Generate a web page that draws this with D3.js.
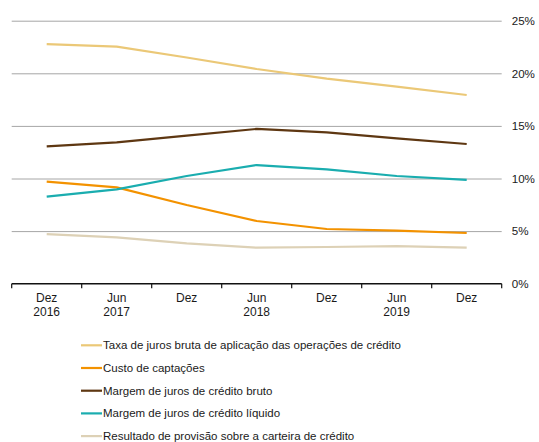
<!DOCTYPE html>
<html>
<head>
<meta charset="utf-8">
<script src="https://cdn.jsdelivr.net/npm/d3@7"></script>
<style>
  html, body { margin: 0; padding: 0; background: #fff; }
  svg { display: block; font-family: "Liberation Sans", Arial, sans-serif; }
</style>
</head>
<body>
<svg id="chart" width="539" height="442"></svg>
<script>
// Semester-end periods and their two-line axis labels
const periods = ["2016-12", "2017-06", "2017-12", "2018-06", "2018-12", "2019-06", "2019-12"];
const periodLabels = [["Dez", "2016"], ["Jun", "2017"], ["Dez"], ["Jun", "2018"], ["Dez"], ["Jun", "2019"], ["Dez"]];

// Rates in % per period
const taxaBruta   = [22.78, 22.53, 21.5, 20.41, 19.49, 18.73, 17.94];
const custoCapt   = [9.70, 9.16, 7.48, 5.96, 5.20, 5.04, 4.82];
const margemBruto = [13.06, 13.44, 14.07, 14.71, 14.39, 13.82, 13.28];
const margemLiq   = [8.27, 8.97, 10.24, 11.28, 10.87, 10.24, 9.86];
const provisao    = [4.72, 4.41, 3.84, 3.42, 3.49, 3.58, 3.42];

const yTicks = [0, 5, 10, 15, 20, 25];

const seriesNames = [
  "Taxa de juros bruta de aplicação das operações de crédito",
  "Custo de captações",
  "Margem de juros de crédito bruto",
  "Margem de juros de crédito líquido",
  "Resultado de provisão sobre a carteira de crédito"
];
const seriesValues = [taxaBruta, custoCapt, margemBruto, margemLiq, provisao];
const seriesColors = ["#EBC877", "#F39200", "#5E3712", "#1AADAF", "#DDD1B6"];

const svg = d3.select("#chart");
const plotLeft = 11.7, plotRight = 501.7, plotTop = 20.7, plotBottom = 283.7;

const x = d3.scaleBand().domain(periods).range([plotLeft, plotRight]).padding(0);
const y = d3.scaleLinear().domain([0, 25]).range([plotBottom, plotTop]);
const cx = p => x(p) + x.bandwidth() / 2;

// Gridlines and right-hand value labels
const yAxis = d3.axisRight(y)
  .tickValues(yTicks)
  .tickSize(-(plotRight - plotLeft))
  .tickPadding(10)
  .tickFormat(d => d + "%");
const gy = svg.append("g").attr("transform", `translate(${plotRight},0)`).call(yAxis);
gy.select(".domain").remove();
gy.selectAll(".tick line").attr("stroke", "#A6A6A6").attr("stroke-width", 1)
  .filter(d => d === 0).remove();
gy.selectAll(".tick text")
  .attr("fill", "#1a1a1a")
  .style("font-size", "11.6px")
  .style("font-family", "'Liberation Sans', Arial, sans-serif");

// Category axis: baseline with ticks at period boundaries
const boundaries = periods.map(p => x(p)).concat([plotRight]);
const gx = svg.append("g");
gx.append("line")
  .attr("x1", plotLeft).attr("x2", plotRight)
  .attr("y1", y(0)).attr("y2", y(0))
  .attr("stroke", "#111").attr("stroke-width", 1.4);
gx.selectAll("line.tk").data(boundaries).join("line")
  .attr("class", "tk")
  .attr("x1", d => d).attr("x2", d => d)
  .attr("y1", y(0)).attr("y2", y(0) + 4.5)
  .attr("stroke", "#111").attr("stroke-width", 1.2);
const lbl = gx.selectAll("text").data(periods).join("text")
  .attr("x", d => cx(d))
  .attr("y", y(0) + 18.5)
  .attr("text-anchor", "middle")
  .attr("fill", "#1a1a1a")
  .style("font-size", "12px");
lbl.each(function(d, i) {
  const t = d3.select(this);
  periodLabels[i].forEach((s, k) => {
    t.append("tspan").attr("x", cx(d)).attr("dy", k === 0 ? 0 : 13.5).text(s);
  });
});

// Series lines
const line = d3.line()
  .x((d, i) => cx(periods[i]))
  .y(d => y(d));
svg.append("g").selectAll("path").data(seriesValues).join("path")
  .attr("d", d => line(d))
  .attr("fill", "none")
  .attr("stroke", (d, i) => seriesColors[i])
  .attr("stroke-width", 2.2)
  .attr("stroke-linejoin", "round")
  .attr("stroke-linecap", "butt");

// Legend
const legend = svg.append("g");
const rows = legend.selectAll("g").data(seriesNames).join("g")
  .attr("transform", (d, i) => `translate(81,${345.3 + i * 22.7})`);
rows.append("line")
  .attr("x1", 0).attr("x2", 21).attr("y1", 0).attr("y2", 0)
  .attr("stroke", (d, i) => seriesColors[i]).attr("stroke-width", 2.2);
rows.append("text")
  .attr("x", 22).attr("y", 0).attr("dy", "0.35em")
  .attr("fill", "#1a1a1a")
  .style("font-size", "11.5px")
  .text(d => d);
</script>
</body>
</html>
